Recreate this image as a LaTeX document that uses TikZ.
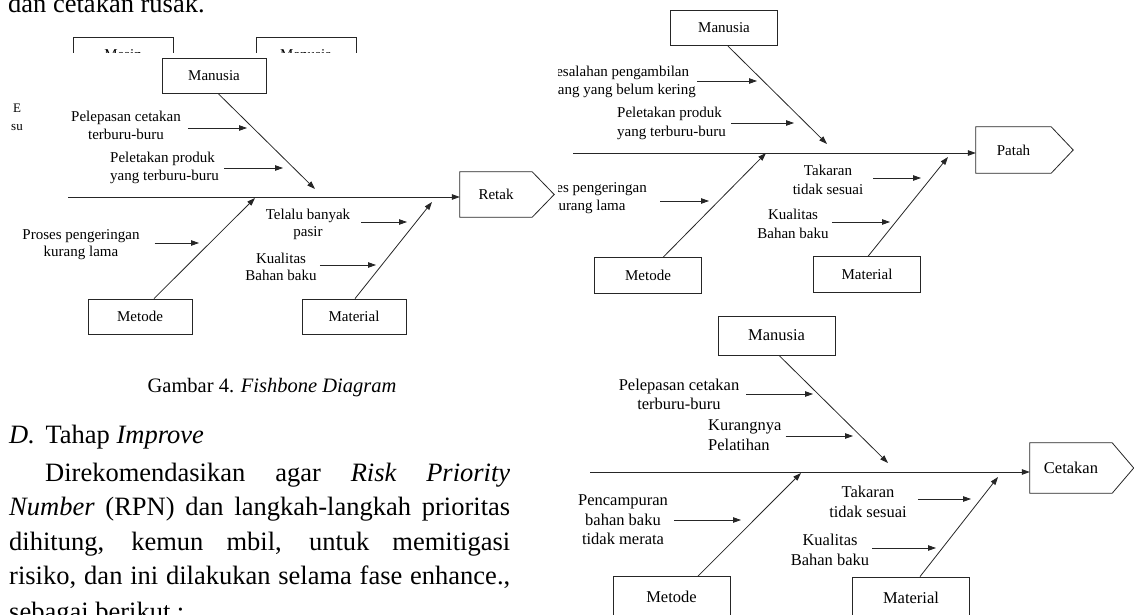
\documentclass[tikz,border=0pt]{standalone}
\usepackage{fontspec}
\setmainfont{Liberation Serif}
\usetikzlibrary{arrows.meta}

\tikzset{
  catbox/.style={draw=black!85, line width=0.8pt, inner sep=0pt, align=center},
  rbox/.style={catbox, minimum width=104pt, minimum height=35pt},
  pbox/.style={catbox, minimum width=107pt, minimum height=35.5pt},
  cbox/.style={catbox, minimum width=117pt, minimum height=39pt},
  head/.style={inner sep=0pt},
  headline/.style={draw=black!85, line width=0.8pt},
  lbl/.style={inner sep=0pt, align=center},
  rfont/.style={font=\fontsize{15}{17.5}\selectfont},
  pfont/.style={font=\fontsize{15}{18.5}\selectfont},
  cfont/.style={font=\fontsize{16.5}{19.5}\selectfont},
  bone/.style={draw=black!85, line width=0.8pt, -{Triangle[length=8pt,width=5.5pt]}},
  body/.style={inner sep=0pt, anchor=base west, font=\fontsize{26.5}{34.5}\selectfont},
}

\begin{document}
\begin{tikzpicture}[x=1pt, y=-1pt]
    \useasboundingbox (0,0) rectangle (1134,615);

    % page text
    \node[body] (txtTop) at (8,13) {dan cetakan rusak.};
    \begin{scope}
        \clip (0,90) rectangle (23,140);
        \node[inner sep=0pt, anchor=base west, font=\fontsize{13}{15}\selectfont] (remE) at (13,113) {E};
        \node[inner sep=0pt, anchor=base west, font=\fontsize{13}{15}\selectfont] (remSu) at (11,130) {su};
    \end{scope}
    \node[inner sep=0pt, anchor=base, font=\fontsize{20.5}{24}\selectfont] (capt) at (272,392) {Gambar 4. \textit{Fishbone Diagram}};
    \node[body] (headD) at (9,443) {\textit{D.}\hspace{0.4em}Tahap \textit{Improve}};
    \node[body] (parA) at (45,481) {\makebox[465pt][s]{Direkomendasikan agar \textit{Risk Priority}}};
    \node[body] (parB) at (9,515.5) {\makebox[501pt][s]{\textit{Number} (RPN) dan langkah-langkah prioritas}};
    \node[body] (parC) at (9,550) {\makebox[501pt][s]{dihitung, kemun mbil, untuk memitigasi}};
    \node[body] (parD) at (9,584.5) {\makebox[501pt][s]{risiko, dan ini dilakukan selama fase enhance.,}};
    \node[body] (parE) at (9,620) {sebagai berikut :};

    % boxes of the diagram above, cut off
    \begin{scope}
        \clip (0,0) rectangle (560,53);
        \node[rbox, rfont, minimum width=100pt, minimum height=36pt] (oMesin) at (123,55) {Mesin};
        \node[rbox, rfont, minimum width=100pt, minimum height=36pt] (oManusia) at (306,55) {Manusia};
    \end{scope}

    % Retak
    \node[rbox, rfont] (rManusia) at (214,75.5) {Manusia};
    \node[rbox, rfont] (rMetode) at (140,316.5) {Metode};
    \node[rbox, rfont] (rMaterial) at (354,316.5) {Material};
    \node[head, rfont, minimum width=72pt, minimum height=45pt] (rHead) at (496,194.5) {Retak};
    \draw[headline] (rHead.north west) -- (rHead.north east) -- ([xshift=22pt]rHead.east)
        -- (rHead.south east) -- (rHead.south west) -- cycle;
    \coordinate (rTail) at (68,197);
    \draw[bone] (rTail) -- (rTail -| rHead.west);
    \coordinate (rJoinM) at (315,189);
    \coordinate (rJoinT) at (255,198);
    \coordinate (rJoinL) at (432,202);
    \draw[bone] ([xshift=4pt]rManusia.south) -- (rJoinM);
    \draw[bone] ([xshift=14pt]rMetode.north) -- (rJoinT);
    \draw[bone] ([xshift=1pt]rMaterial.north) -- (rJoinL);
    \node[lbl, rfont] (rCauseA) at (126,125.5) {Pelepasan cetakan\\terburu-buru};
    \node[lbl, rfont, align=left, anchor=west] (rCauseB) at (110,168) {Peletakan produk\\yang terburu-buru};
    \node[lbl, rfont] (rCauseC) at (81,244.5) {Proses pengeringan\\kurang lama};
    \node[lbl, rfont] (rCauseD) at (308,224.5) {Telalu banyak\\pasir};
    \node[lbl, rfont] (rCauseE) at (281,267) {Kualitas\\Bahan baku};
    \coordinate (rTipA) at (247,128);
    \coordinate (rTipB) at (283,168);
    \coordinate (rTipC) at (199,243);
    \coordinate (rTipD) at (407,222);
    \coordinate (rTipE) at (376,265);
    \draw[bone, shorten <=7pt] (rCauseA.east |- rTipA) -- (rTipA);
    \draw[bone, shorten <=5pt] (rCauseB.east |- rTipB) -- (rTipB);
    \draw[bone, shorten <=15pt] (rCauseC.east |- rTipC) -- (rTipC);
    \draw[bone, shorten <=11pt] (rCauseD.east |- rTipD) -- (rTipD);
    \draw[bone, shorten <=3pt] (rCauseE.east |- rTipE) -- (rTipE);

    % Patah
    \begin{scope}
        \clip (558,0) rectangle (1134,300);
        \node[pbox, pfont] (pManusia) at (724,28) {Manusia};
        \node[pbox, pfont] (pMetode) at (648,275.5) {Metode};
        \node[pbox, pfont] (pMaterial) at (867,274.5) {Material};
        \node[head, pfont, minimum width=75pt, minimum height=46pt] (pHead) at (1013.5,150) {Patah};
        \draw[headline] (pHead.north west) -- (pHead.north east) -- ([xshift=22pt]pHead.east)
            -- (pHead.south east) -- (pHead.south west) -- cycle;
        \coordinate (pTail) at (573,153);
        \draw[bone] (pTail) -- (pTail -| pHead.west);
        \coordinate (pJoinM) at (827,144);
        \coordinate (pJoinT) at (766,153);
        \coordinate (pJoinL) at (948,157);
        \draw[bone] ([xshift=4pt]pManusia.south) -- (pJoinM);
        \draw[bone] ([xshift=15pt]pMetode.north) -- (pJoinT);
        \draw[bone] ([xshift=1pt]pMaterial.north) -- (pJoinL);
        \node[lbl, pfont, anchor=east] (pCauseA) at (696,82) {Kesalahan pengambilan\\barang yang belum kering};
        \node[lbl, pfont, align=left, anchor=west] (pCauseB) at (617,123.5) {Peletakan produk\\yang terburu-buru};
        \node[lbl, pfont, anchor=east] (pCauseC) at (647,198) {Proses pengeringan\\kurang lama};
        \node[lbl, pfont] (pCauseD) at (828,180) {Takaran\\tidak sesuai};
        \node[lbl, pfont] (pCauseE) at (793,224) {Kualitas\\Bahan baku};
        \coordinate (pTipA) at (757,81);
        \coordinate (pTipB) at (794,123);
        \coordinate (pTipC) at (709,201);
        \coordinate (pTipD) at (921,178);
        \coordinate (pTipE) at (890,222);
        \draw[bone, shorten <=1pt] (pCauseA.east |- pTipA) -- (pTipA);
        \draw[bone, shorten <=5pt] (pCauseB.east |- pTipB) -- (pTipB);
        \draw[bone, shorten <=13pt] (pCauseC.east |- pTipC) -- (pTipC);
        \draw[bone, shorten <=10pt] (pCauseD.east |- pTipD) -- (pTipD);
        \draw[bone, shorten <=3pt] (pCauseE.east |- pTipE) -- (pTipE);
    \end{scope}

    % Cetakan
    \node[cbox, cfont] (cManusia) at (776.5,335.5) {Manusia};
    \node[cbox, cfont, minimum height=41pt] (cMetode) at (671.5,597) {Metode};
    \node[cbox, cfont, minimum height=41pt] (cMaterial) at (911,597.5) {Material};
    \node[head, cfont, minimum width=82pt, minimum height=50pt] (cHead) at (1071,468) {Cetakan};
    \draw[headline] (cHead.north west) -- (cHead.north east) -- ([xshift=21.5pt]cHead.east)
        -- (cHead.south east) -- (cHead.south west) -- cycle;
    \coordinate (cTail) at (590,472);
    \draw[bone] (cTail) -- (cTail -| cHead.west);
    \coordinate (cJoinM) at (888,463);
    \coordinate (cJoinT) at (801,473);
    \coordinate (cJoinL) at (998,477);
    \draw[bone] ([xshift=2.5pt]cManusia.south) -- (cJoinM);
    \draw[bone] ([xshift=26.5pt]cMetode.north) -- (cJoinT);
    \draw[bone] ([xshift=9pt]cMaterial.north) -- (cJoinL);
    \node[lbl, cfont] (cCauseA) at (679,394.5) {Pelepasan cetakan\\terburu-buru};
    \node[lbl, cfont, align=left, anchor=west] (cCauseB) at (708,435) {Kurangnya\\Pelatihan};
    \node[lbl, cfont] (cCauseC) at (623,520) {Pencampuran\\bahan baku\\tidak merata};
    \node[lbl, cfont] (cCauseD) at (868,502) {Takaran\\tidak sesuai};
    \node[lbl, cfont] (cCauseE) at (830,550) {Kualitas\\Bahan baku};
    \coordinate (cTipA) at (813,394);
    \coordinate (cTipB) at (853,436);
    \coordinate (cTipC) at (741,520);
    \coordinate (cTipD) at (971,499);
    \coordinate (cTipE) at (936,548);
    \draw[bone, shorten <=7pt] (cCauseA.east |- cTipA) -- (cTipA);
    \draw[bone, shorten <=4pt] (cCauseB.east |- cTipB) -- (cTipB);
    \draw[bone, shorten <=6pt] (cCauseC.east |- cTipC) -- (cTipC);
    \draw[bone, shorten <=11pt] (cCauseD.east |- cTipD) -- (cTipD);
    \draw[bone, shorten <=3pt] (cCauseE.east |- cTipE) -- (cTipE);
\end{tikzpicture}
\end{document}
